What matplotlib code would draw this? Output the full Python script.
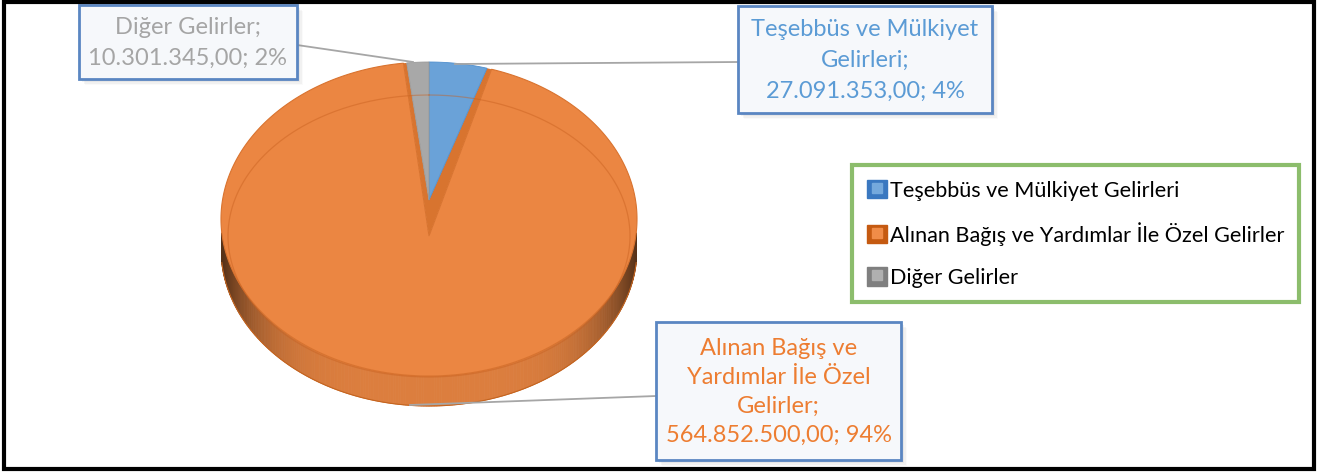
import numpy as np
import matplotlib
matplotlib.use("Agg")
import matplotlib.pyplot as plt
from matplotlib.patches import Polygon, Rectangle, Patch
from matplotlib.lines import Line2D
from matplotlib.legend_handler import HandlerTuple

plt.rcParams['font.family'] = ['Lato', 'DejaVu Sans']

# ---------------- data ----------------
categories = ['Teşebbüs ve Mülkiyet Gelirleri',
              'Alınan Bağış ve Yardımlar İle Özel Gelirler',
              'Diğer Gelirler']
label_names = ['Teşebbüs ve Mülkiyet\nGelirleri',
               'Alınan Bağış ve\nYardımlar İle Özel\nGelirler',
               'Diğer Gelirler']
values = [27091353.00, 564852500.00, 10301345.00]
top_colors = ['#6aa2d8', '#eb8642', '#a8a8a8']
legend_dark = ['#3a78c0', '#c55a11', '#7f7f7f']
legend_light = ['#75a9dc', '#f08c48', '#b0b0b0']
label_colors = ['#5b9bd5', '#ed7d31', '#a5a5a5']

def tr_fmt(v):
    s = f"{v:,.2f}"
    return s.replace(',', 'X').replace('.', ',').replace('X', '.')

# ---------------- figure ----------------
W, H = 1318, 472
fig = plt.figure(figsize=(W / 100, H / 100), dpi=100)
ax = fig.add_axes([0, 0, 1, 1])
ax.set_xlim(0, W)
ax.set_ylim(H, 0)
ax.axis('off')

cx, cy, rx, ry = 429.0, 219.0, 208.0, 157.0
thick = 30.0
apexB = (429.0, 200.0)   # apex of small slices
apexV = (429.0, 236.0)   # apex of the big slice

def P(theta_deg, cx=cx, cy=cy, rx=rx, ry=ry, dy=0.0):
    t = np.radians(theta_deg)
    return np.column_stack([cx + rx * np.sin(t), cy - ry * np.cos(t) + dy])

total = sum(values)
fracs = [v / total for v in values]
bounds = np.concatenate([[0], np.cumsum(fracs) * 360.0])

# side (front, visible half) with shading
side_base = np.array([0xdc, 0x7e, 0x3e]) / 255.0
ths = np.linspace(95, 265, 241)
for a, b in zip(ths[:-1], ths[1:]):
    top = P(np.array([a, b]))
    bot = P(np.array([b, a]), dy=thick)
    m = 0.5 * (a + b)
    s = abs(np.sin(np.radians(m)))
    shade = 1.0 - 0.62 * s ** 5
    col = np.clip(side_base * shade, 0, 1)
    ax.add_patch(Polygon(np.vstack([top, bot]), closed=True, fc=col, ec=col, lw=0.6))
bt = P(ths, dy=thick)
ax.plot(bt[:, 0], bt[:, 1], color='#c4641f', lw=0.8)

# big slice top face (from its own angle range)
i_big = 1
gapR, gapL = 1.3, 0.9
arc = P(np.linspace(bounds[i_big] + gapR, bounds[i_big + 1] - gapL, 400))
ax.add_patch(Polygon(np.vstack([[apexV], arc]), closed=True,
                     fc=top_colors[i_big], ec='#d9732f', lw=0.8))
# inner walls visible in the cut
wall = np.vstack([[apexV], P(bounds[i_big] + gapR), P(bounds[i_big]), [apexB],
                  P(bounds[i_big + 1]), P(bounds[i_big + 1] - gapL)])
ax.add_patch(Polygon(wall, closed=True, fc='#d8742f', ec='none'))

# small slices
for i in (0, 2):
    arc = P(np.linspace(bounds[i], bounds[i + 1], 60))
    ec = '#4f8fce' if i == 0 else '#999999'
    ax.add_patch(Polygon(np.vstack([[apexB], arc]), closed=True,
                         fc=top_colors[i], ec=ec, lw=0.6))

# inner bevel line
inner = P(np.linspace(0, 360, 400), cx=429.0, cy=236.0, rx=201.0, ry=141.0)
ax.plot(inner[:, 0], inner[:, 1], color='#c8601f', lw=0.9, alpha=0.45)

# ---------------- data labels ----------------
pcts = [round(f * 100) for f in fracs]
label_texts = [f"{n};\n{tr_fmt(v)}; {p}%" for n, v, p in zip(label_names, values, pcts)]
boxes = [(738, 6, 992, 113), (656, 322, 901, 460), (79, 5, 297, 79)]
leaders = [((738, 62), (455, 64)), ((656, 396), (410, 405)), ((297, 45), (413, 62))]
spacing = [1.58, 1.48, 1.55]

for i in range(3):
    (x0, y0, x1, y1) = boxes[i]
    (a, b) = leaders[i]
    ax.plot([a[0], b[0]], [a[1], b[1]], color='#a6a6a6', lw=1.3, zorder=3)
    for k, al in enumerate([0.10, 0.07, 0.05, 0.03]):
        off = 1.5 + k * 1.5
        ax.add_patch(Rectangle((x0 + off, y0 + off), x1 - x0, y1 - y0,
                               fc='#606060', ec='none', alpha=al, zorder=3))
    ax.add_patch(Rectangle((x0, y0), x1 - x0, y1 - y0, fc='#f6f8fb',
                           ec='#5a86c2', lw=2.0, zorder=4))
    ax.text((x0 + x1) / 2, (y0 + y1) / 2 + 1, label_texts[i], ha='center', va='center',
            color=label_colors[i], fontsize=17.0, linespacing=spacing[i], zorder=5)

# ---------------- legend ----------------
handles = [(Patch(fc=d, ec=d), Line2D([], [], marker='s', ls='', ms=7,
                                      mfc=l, mec=l))
           for d, l in zip(legend_dark, legend_light)]
leg = ax.legend(handles, categories,
                handler_map={tuple: HandlerTuple(ndivide=1, pad=0.0)},
                loc='upper left', bbox_to_anchor=(852 / W, 1 - 165 / H),
                frameon=True, fontsize=15.6, handlelength=0.95, handleheight=0.95,
                handletextpad=0.12, labelspacing=0.98, borderpad=0.68,
                borderaxespad=0, fancybox=False)
fr = leg.get_frame()
fr.set_edgecolor('#70ad47')
fr.set_linewidth(3.0)
leg.set_zorder(6)

# ---------------- outer border ----------------
ax.add_patch(Rectangle((4, 1.5), 1310, 467, fill=False, ec='black', lw=3.0, zorder=10))

fig.savefig('out.png', dpi=100)
